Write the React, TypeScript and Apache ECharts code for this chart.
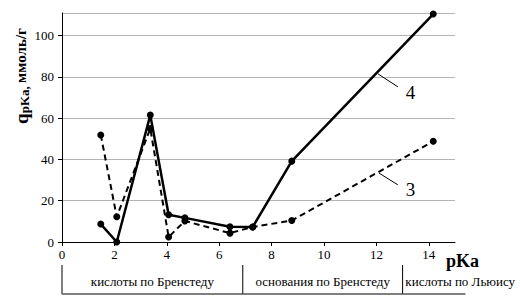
import React, { useEffect, useRef } from "react";
import * as echarts from "echarts";

const pKa = [1.48, 2.09, 3.37, 4.07, 4.69, 6.41, 7.28, 8.77, 14.17];
const series4 = [8.7, 0, 61.5, 13.2, 11.7, 7.4, 7.3, 39.2, 110.5];
const series3 = [51.9, 12.2, 55.0, 2.4, 10.2, 4.3, 7.3, 10.4, 48.8];

const xTicks = { min: 0, max: 15, interval: 2 };
const yTicks = { min: 0, max: 111, interval: 20 };

// annotation leader lines & labels in data units
const leader4 = [[12.06, 81.5], [12.82, 75.2]];
const label4 = [13.3, 72.5];
const leader3 = [[12.1, 33.4], [12.82, 27.7]];
const label3 = [13.3, 25.5];

const bandEdges = [0, 6.9, 13];
const bandEnd = 15.4;
const bandLabels = ["кислоты по Бренстеду", "основания по Бренстеду", "кислоты по Льюису"];
const bandCenters = [3.45, 9.95, 15.2];

const FONT = "Liberation Serif";

export default function App() {
  const ref = useRef<HTMLDivElement>(null);
  useEffect(() => {
    document.body.style.margin = "0";
    const chart = echarts.init(ref.current!, null, { renderer: "svg" });
    const mk = (name: string, data: number[], dashed: boolean, leader: number[][], lbl: number[], text: string) => ({
      type: "line",
      name,
      data: pKa.map((x, i) => [x, data[i]]),
      symbol: "circle",
      symbolSize: 7,
      itemStyle: { color: "#000" },
      lineStyle: { color: "#000", width: dashed ? 2 : 2.5, type: dashed ? [6, 4] : "solid" },
      z: dashed ? 3 : 4,
      markLine: {
        silent: true,
        symbol: ["none", "none"],
        label: { show: false },
        lineStyle: { color: "#000", width: 1, type: "solid" },
        data: [[{ coord: leader[0] }, { coord: leader[1] }]],
      },
      markPoint: {
        silent: true,
        symbol: "rect",
        symbolSize: 1,
        itemStyle: { color: "rgba(0,0,0,0)" },
        label: { show: true, position: "inside", formatter: text, color: "#000", fontSize: 19, fontFamily: FONT },
        data: [{ coord: lbl }],
      },
    });
    chart.setOption({
      animation: false,
      textStyle: { fontFamily: FONT },
      grid: { left: 62, right: 65, top: 13, bottom: 60 },
      xAxis: {
        type: "value",
        min: xTicks.min,
        max: xTicks.max,
        interval: xTicks.interval,
        axisLine: { lineStyle: { color: "#000", width: 1 } },
        axisTick: { show: true, length: 4, lineStyle: { color: "#000" } },
        axisLabel: { showMaxLabel: false, color: "#000", fontFamily: FONT, fontSize: 13, margin: 6 },
        splitLine: { show: false },
      },
      yAxis: {
        type: "value",
        min: yTicks.min,
        max: yTicks.max,
        interval: yTicks.interval,
        axisLine: { show: true, lineStyle: { color: "#000", width: 1 } },
        axisTick: { show: true, length: 4, lineStyle: { color: "#000" } },
        axisLabel: { showMaxLabel: false, color: "#000", fontFamily: FONT, fontSize: 13, margin: 8 },
        splitLine: { show: true, lineStyle: { color: "#b4b4b4", width: 1 } },
      },
      series: [
        mk("3", series3, true, leader3, label3, "3"),
        mk("4", series4, false, leader4, label4, "4"),
      ],
    });
    const px = (v: number) => chart.convertToPixel({ xAxisIndex: 0 }, v) as number;
    const elements: any[] = [];
    const yTop = 265, yBot = 294;
    bandEdges.forEach((e) => {
      elements.push({ type: "line", shape: { x1: px(e), y1: yTop, x2: px(e), y2: yBot }, style: { stroke: "#000", lineWidth: 1 } });
    });
    elements.push({ type: "line", shape: { x1: px(0), y1: yBot, x2: px(bandEnd), y2: yBot }, style: { stroke: "#555", lineWidth: 1.5 } });
    bandLabels.forEach((t, i) => {
      elements.push({
        type: "text",
        x: px(bandCenters[i]),
        y: 281,
        style: { text: t, fill: "#000", fontFamily: FONT, fontSize: 13, textAlign: "center", textVerticalAlign: "middle" },
      });
    });
    elements.push({
      type: "text",
      x: 446,
      y: 261,
      style: { text: "pKa", fill: "#000", fontFamily: FONT, fontWeight: "bold", fontSize: 18, textAlign: "left", textVerticalAlign: "middle" },
    });
    elements.push({
      type: "text",
      x: 21,
      y: 76,
      rotation: Math.PI / 2,
      style: {
        rich: {
          q: { fontFamily: FONT, fontWeight: "bold", fontSize: 19, fill: "#000" },
          s: { fontFamily: FONT, fontWeight: "bold", fontSize: 13, fill: "#000", padding: [7, 0, 0, 0] },
          u: { fontFamily: FONT, fontWeight: "bold", fontSize: 15, fill: "#000" },
        },
        text: "{q|q}{s|pKa, }{u|ммоль/г}",
        textAlign: "center",
        textVerticalAlign: "middle",
      },
    });
    chart.setOption({ graphic: elements });
    return () => chart.dispose();
  }, []);
  return <div ref={ref} style={{ width: 520, height: 302 }} />;
}
